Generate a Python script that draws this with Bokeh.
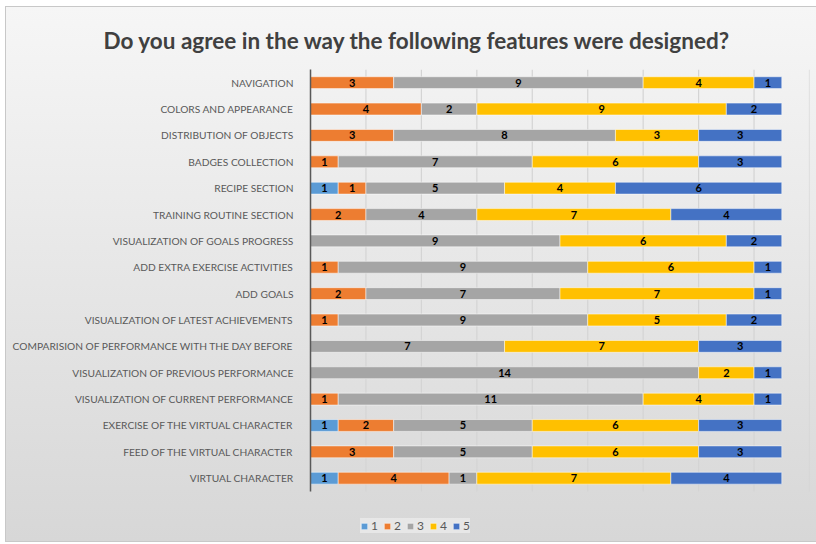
from bokeh.plotting import figure
from bokeh.models import ColumnDataSource, Range1d, FixedTicker, Legend, LegendItem
from bokeh.core.properties import value
from bokeh.embed import file_html
from bokeh.resources import INLINE

categories = [
    "NAVIGATION",
    "COLORS AND APPEARANCE",
    "DISTRIBUTION OF OBJECTS",
    "BADGES COLLECTION",
    "RECIPE SECTION",
    "TRAINING ROUTINE SECTION",
    "VISUALIZATION OF GOALS PROGRESS",
    "ADD EXTRA EXERCISE ACTIVITIES",
    "ADD GOALS",
    "VISUALIZATION OF LATEST ACHIEVEMENTS",
    "COMPARISION OF PERFORMANCE WITH THE DAY BEFORE",
    "VISUALIZATION OF PREVIOUS PERFORMANCE",
    "VISUALIZATION OF CURRENT PERFORMANCE",
    "EXERCISE OF THE VIRTUAL CHARACTER",
    "FEED OF THE VIRTUAL CHARACTER",
    "VIRTUAL CHARACTER",
]
series_names = ["1", "2", "3", "4", "5"]
s1 = [0, 0, 0, 0, 1, 0, 0, 0, 0, 0, 0, 0, 0, 1, 0, 1]
s2 = [3, 4, 3, 1, 1, 2, 0, 1, 2, 1, 0, 0, 1, 2, 3, 4]
s3 = [9, 2, 8, 7, 5, 4, 9, 9, 7, 9, 7, 14, 11, 5, 5, 1]
s4 = [4, 9, 3, 6, 4, 7, 6, 6, 7, 5, 7, 2, 4, 6, 6, 7]
s5 = [1, 2, 3, 3, 6, 4, 2, 1, 1, 2, 3, 1, 1, 3, 3, 4]
x_ticks = [0, 2, 4, 6, 8, 10, 12, 14, 16, 18]
colors = ["#5B9BD5", "#ED7D31", "#A5A5A5", "#FFC000", "#4472C4"]
title_text = "Do you agree in the way the following features were designed?"

series = [s1, s2, s3, s4, s5]
n = len(categories)
ypos = [n - 0.5 - i for i in range(n)]  # category slot centres, first category on top

p = figure(
    width=816, height=544,
    y_range=Range1d(-1.9, n),
    x_range=Range1d(0, 18),
    output_backend="svg", toolbar_location=None,
    min_border_left=310, min_border_right=7, min_border_top=69, min_border_bottom=3,
)
p.border_fill_color = None
p.background_fill_color = None
p.outline_line_color = None
p.styles = {
    "background": "linear-gradient(to bottom, #f6f6f6, #d7d7d7) no-repeat 6px 7px / 820px 534px, "
                  "linear-gradient(#c8c8c8, #c8c8c8) no-repeat 5px 6px / 822px 536px, #ffffff"
}

p.title.text = title_text
p.title.align = "left"
p.title.text_font = "Lato"
p.title.text_font_style = "bold"
p.title.text_font_size = "22.5px"
p.title.text_color = "#404040"
p.title.offset = -207
p.title.standoff = 31

# vertical gridlines over the category area only
p.segment(x0=x_ticks, x1=x_ticks, y0=[0] * len(x_ticks), y1=[n] * len(x_ticks),
          line_color="#d4d4d4", line_width=1.2)

cum = [0] * n
items = []
for name, vals, col in zip(series_names, series, colors):
    left = list(cum)
    right = [a + b for a, b in zip(cum, vals)]
    src = ColumnDataSource(dict(y=ypos, left=left, right=right,
                                mid=[(a + b) / 2 for a, b in zip(left, right)],
                                val=vals,
                                lab=[str(v) if v > 0 else "" for v in vals]))
    r = p.hbar(y="y", left="left", right="right", height=0.45, source=src,
               fill_color=col, line_color="#ffffff", line_width=1, line_alpha=0.5)
    p.text(x="mid", y="y", text="lab", source=src, text_align="center",
           text_baseline="middle", text_font=value("Lato"), text_font_style="bold",
           text_font_size="11px", text_color="#000000")
    items.append(LegendItem(label=name, renderers=[r]))
    cum = right

legend = Legend(items=items, orientation="horizontal", location=(50, 8),
                background_fill_color="#ebebeb", background_fill_alpha=0.8,
                border_line_color=None, label_text_font="Lato",
                label_text_font_size="12px", label_text_color="#595959",
                glyph_width=8, glyph_height=8, spacing=5, label_standoff=3,
                label_width=7, label_height=13,
                padding=6, margin=0)
p.add_layout(legend)

p.xaxis.visible = False
p.xgrid.visible = False
p.ygrid.visible = False

yax = p.yaxis[0]
yax.ticker = FixedTicker(ticks=ypos)
yax.major_label_overrides = {y: c for y, c in zip(ypos, categories)}
yax.bounds = (0, n)
yax.axis_line_color = "#595959"
yax.axis_line_width = 1.5
yax.major_tick_line_color = None
yax.minor_tick_line_color = None
yax.major_label_text_font = "Lato"
yax.major_label_text_font_size = "10.2px"
yax.major_label_text_color = "#595959"
yax.major_label_standoff = 11

open("out.html", "w").write(file_html(p, INLINE))
